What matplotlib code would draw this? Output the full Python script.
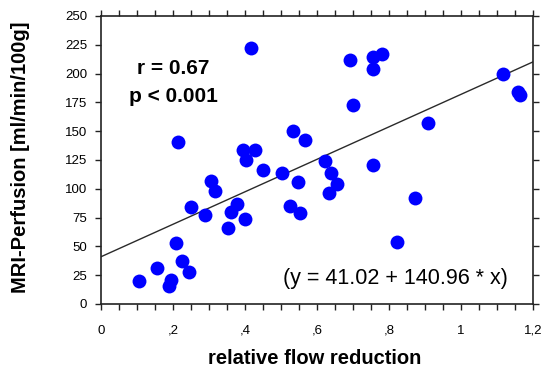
import numpy as np
import matplotlib
matplotlib.use("Agg")
import matplotlib.pyplot as plt
from matplotlib.ticker import MultipleLocator

plt.rcParams['font.family'] = ['Liberation Sans', 'DejaVu Sans']

# data
flow_red = [0.106, 0.156, 0.188, 0.194, 0.208, 0.214, 0.224, 0.245, 0.249, 0.290,
            0.306, 0.318, 0.353, 0.360, 0.379, 0.395, 0.399, 0.403, 0.416, 0.429,
            0.449, 0.503, 0.525, 0.532, 0.548, 0.553, 0.567, 0.623, 0.634, 0.640,
            0.655, 0.692, 0.699, 0.755, 0.755, 0.755, 0.781, 0.821, 0.871, 0.908,
            1.118, 1.158, 1.165]
perfusion = [20, 31, 16, 21, 53, 141, 37, 28, 84, 77,
             107, 98, 66, 80, 87, 134, 74, 125, 222, 134,
             116, 114, 85, 150, 106, 79, 142, 124, 96, 114,
             104, 212, 173, 214, 204, 121, 217, 54, 92, 157,
             200, 184, 181]

intercept = 41.02
slope = 140.96

xticks = [0, 0.2, 0.4, 0.6, 0.8, 1.0, 1.2]
xticklabels = ["0", ",2", ",4", ",6", ",8", "1", "1,2"]
yticks = list(range(0, 251, 25))

fig = plt.figure(figsize=(5.44, 3.76), dpi=100)
ax = fig.add_axes([101/544, 1 - 304/376, 432/544, 288/376])

xl = np.array([0, 1.2])
ax.plot(xl, intercept + slope * xl, color="#2a2a2a", lw=1.0, zorder=2)
ax.plot(flow_red, perfusion, 'o', color="#0000ff", ms=10, mec="none", zorder=3)

ax.set_xlim(0, 1.2)
ax.set_ylim(0, 250)
ax.set_xticks(xticks)
ax.set_xticklabels(xticklabels)
ax.xaxis.set_minor_locator(MultipleLocator(0.05))
ax.set_yticks(yticks)
ax.tick_params(which="both", direction="out", length=4, width=1, color="#222222",
               top=True, right=True, labelsize=9.5, pad=6)
ax.tick_params(axis="x", pad=11)

for s in ax.spines.values():
    s.set_linewidth(1.2)
    s.set_color("#222222")

ax.set_xlabel("relative flow reduction", fontsize=14.5, fontweight="bold")
ax.set_ylabel("MRI-Perfusion [ml/min/100g]", fontsize=14.5, fontweight="bold")
ax.xaxis.set_label_coords(0.495, -0.155)
ax.yaxis.set_label_coords(-0.165, 0.51)

ax.text(0.2, 204, "r = 0.67", fontsize=15, fontweight="bold", ha="center", va="center")
ax.text(0.2, 180, "p < 0.001", fontsize=15, fontweight="bold", ha="center", va="center")
ax.text(0.818, 22.5, "(y = 41.02 + 140.96 * x)", fontsize=15.5, ha="center", va="center")

fig.savefig("out.png", dpi=100)
